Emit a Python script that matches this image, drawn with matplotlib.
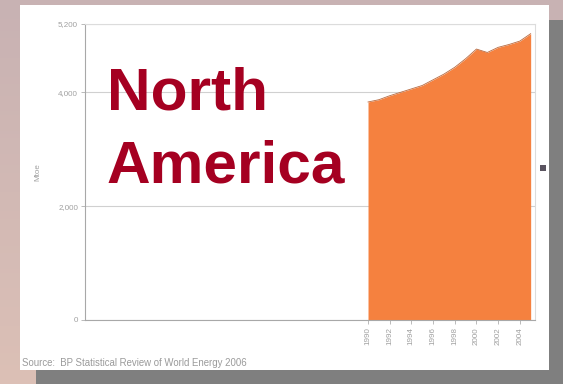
import matplotlib
matplotlib.use("Agg")
import matplotlib.pyplot as plt
import numpy as np
from matplotlib.patches import Rectangle

years = [1990, 1991, 1992, 1993, 1994, 1995, 1996, 1997, 1998, 1999,
         2000, 2001, 2002, 2003, 2004, 2005]
values = [3830, 3870, 3940, 4000, 4060, 4120, 4220, 4320, 4440, 4590,
          4760, 4700, 4790, 4840, 4900, 5030]
tick_years = [1990, 1992, 1994, 1996, 1998, 2000, 2002, 2004]
ytick_vals = [0, 2000, 4000, 5200]
ytick_labels = ["0", "2,000", "4,000", "5,200"]
title_text = "North\nAmerica"
ylabel_text = "Mtoe"
source_text = "Source:  BP Statistical Review of World Energy 2006"

W, H = 563, 384
fig = plt.figure(figsize=(W / 100, H / 100), dpi=100)

# background gradient + panels
bg = fig.add_axes([0, 0, 1, 1])
bg.set_axis_off()
grad = np.linspace(0, 1, 100).reshape(-1, 1)
c1 = np.array([0xc8, 0xb2, 0xb3]) / 255
c2 = np.array([0xdc, 0xc0, 0xb6]) / 255
img = c1[None, None, :] * (1 - grad[:, :, None]) + c2[None, None, :] * grad[:, :, None]
bg.imshow(img, aspect="auto", extent=[0, W, H, 0])
bg.set_xlim(0, W)
bg.set_ylim(H, 0)
bg.add_patch(Rectangle((36, 20), W - 36, H - 20, facecolor="#7f7f7f", edgecolor="none"))
bg.add_patch(Rectangle((20, 5), 529, 365, facecolor="white", edgecolor="none"))
bg.add_patch(Rectangle((540, 165), 6, 6, facecolor="#5a5460", edgecolor="none"))
bg.text(22, 363, source_text, fontsize=6.9, color="#9a9a9a", va="center", ha="left",
        family="Liberation Sans")

# chart axes
ax = fig.add_axes([85 / W, 1 - 320 / H, (535 - 85) / W, (320 - 24) / H])
ax.set_facecolor("white")
ax.fill_between(years, values, 0, color="#f5813f", linewidth=0)
ax.plot(years, values, color="#b86a40", linewidth=0.6)
ax.set_xlim(1963.9, 2005.4)
ax.set_ylim(0, 5200)
ax.set_yticks(ytick_vals)
ax.set_yticklabels(ytick_labels, fontsize=5.8, color="#a0a0a0", family="Liberation Sans")
ax.set_xticks(tick_years)
ax.set_xticklabels([str(y) for y in tick_years], rotation=90, fontsize=5.8,
                   color="#a0a0a0", family="Liberation Sans")
ax.tick_params(axis="both", length=3, color="#b0b0b0", width=0.6, pad=2)
ax.yaxis.grid(True, color="#d0d0d0", linewidth=0.8)
ax.set_axisbelow(True)
for s in ["left", "bottom"]:
    ax.spines[s].set_color("#a8a8a8")
    ax.spines[s].set_linewidth(0.8)
for s in ["top", "right"]:
    ax.spines[s].set_color("#dcdcdc")
    ax.spines[s].set_linewidth(0.8)
ax.set_ylabel(ylabel_text, fontsize=5.8, color="#a0a0a0", labelpad=12, family="Liberation Sans")

fig.text(107 / W, 1 - 66 / H, title_text, fontsize=43.5, fontweight="bold", color="#a50021",
         family="Liberation Sans", va="top", ha="left", linespacing=1.42)

fig.savefig("out.png", dpi=100)
